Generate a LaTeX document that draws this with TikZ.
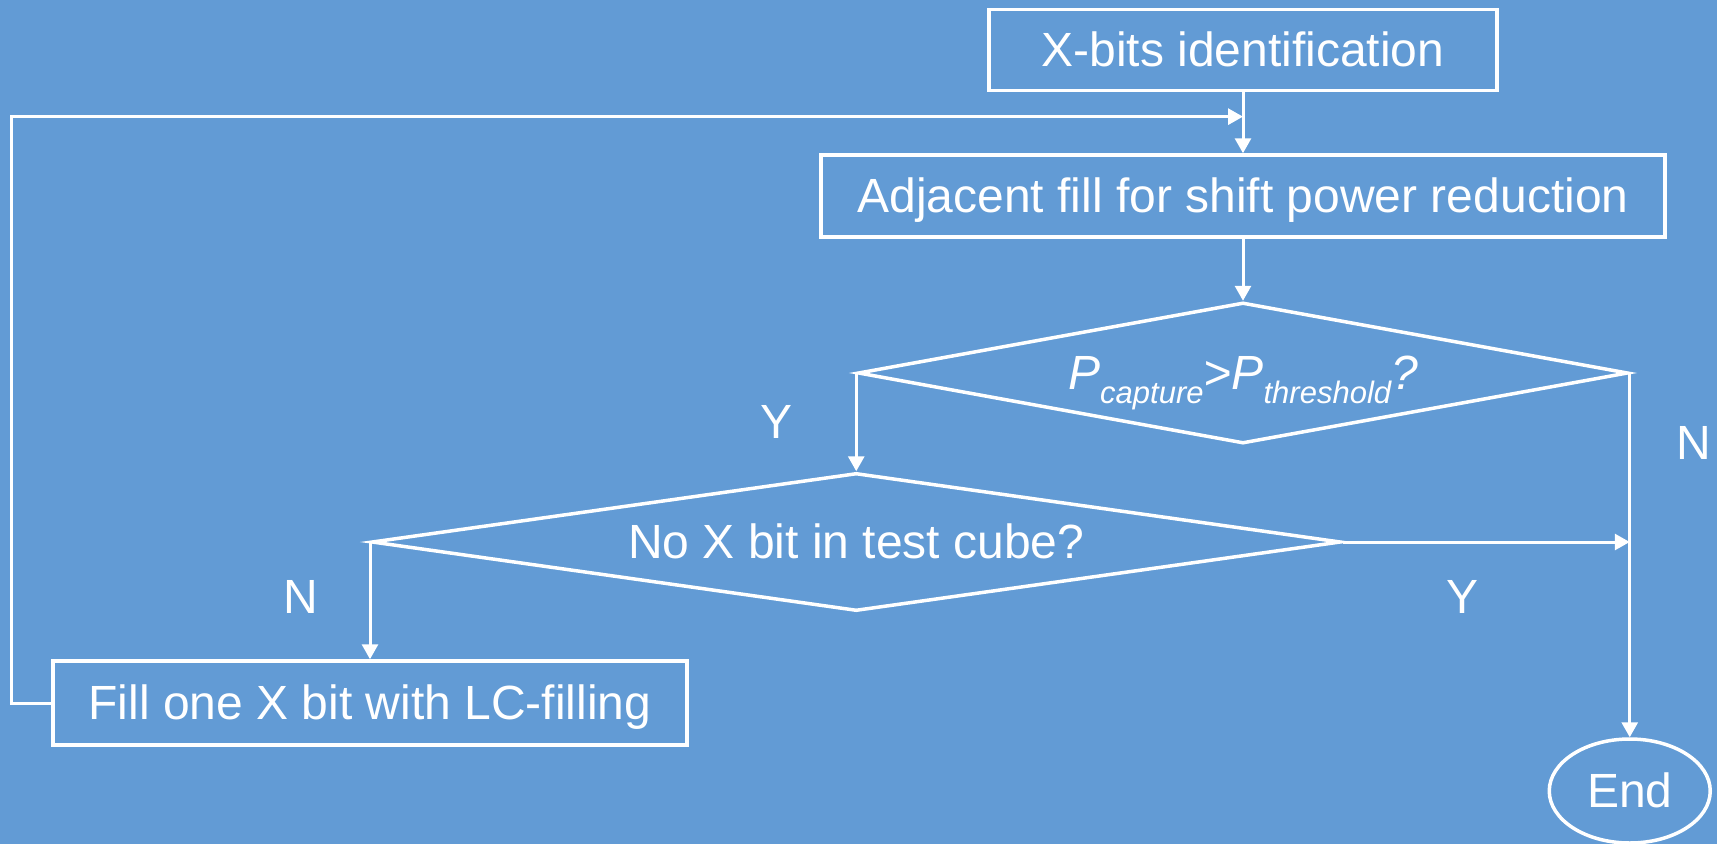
\documentclass[tikz,border=0pt]{standalone}
\usepackage{fontspec}
\setmainfont{Liberation Sans}
\usetikzlibrary{shapes.geometric,arrows.meta,calc}
\definecolor{slideblue}{RGB}{98,155,213}
\begin{document}
\begin{tikzpicture}[x=1pt,y=-1pt,
  every node/.style={text=white, font=\fontsize{48}{58}\selectfont,
    text height=43.4pt, text depth=10.2pt},
  procbox/.style={draw=white, line width=3.5pt, rectangle, inner sep=0pt},
  decision/.style={draw=white, line width=3.5pt, diamond, inner sep=0pt},
  terminal/.style={draw=white, line width=3.5pt, ellipse, inner sep=0pt,
    minimum width=161pt, minimum height=104pt},
  flow/.style={draw=white, line width=3pt, -{Triangle[length=15pt,width=16pt]}}]

% slide background
\fill[slideblue] (0,0) rectangle (1717,844);
\useasboundingbox (0,0) rectangle (1717,844);

% process steps and decisions
\node[procbox, minimum width=508pt, minimum height=81pt] (xbits) at (1243,50)
  {X-bits identification};
\node[procbox, minimum width=844pt, minimum height=82pt] (adj) at (1243,196)
  {Adjacent fill for shift power reduction};
\node[decision, shape aspect=5.6, minimum width=770pt, minimum height=141pt] (d1) at (1243,373)
  {\itshape P\raisebox{-14pt}{\fontsize{31}{31}\selectfont capture}>P\raisebox{-14pt}{\fontsize{31}{31}\selectfont threshold}?};
\node[decision, shape aspect=7, minimum width=969pt, minimum height=138pt] (d2) at (d1.west |- 0,542)
  {No X bit in test cube?};
\node[procbox, minimum width=634pt, minimum height=84pt] (fill) at (370,703)
  {Fill one X bit with LC-filling};
\node[terminal] (end) at (d1.east |- 0,791) {End};

% branch labels
\node (y1) at (776,422) {Y};
\node (n1) at (1694,443) {N};
\node (n2) at (301,597) {N};
\node (y2) at (1462,597) {Y};

% connectors
\coordinate (join) at ($(xbits.south)!0.4!(adj.north)$);
\draw[flow] (xbits) -- (adj);
\draw[flow] (fill.west) -- ++(-40,0) |- (join);
\draw[flow] (adj) -- (d1);
\draw[flow] (d1.west) -- (d2.north);
\draw[flow] (d1.east) -- (end.north);
\draw[flow] (d2.east) -- (d2.east -| end.north);
\draw[flow] (d2.west) -- (d2.west |- fill.north);
\end{tikzpicture}
\end{document}
